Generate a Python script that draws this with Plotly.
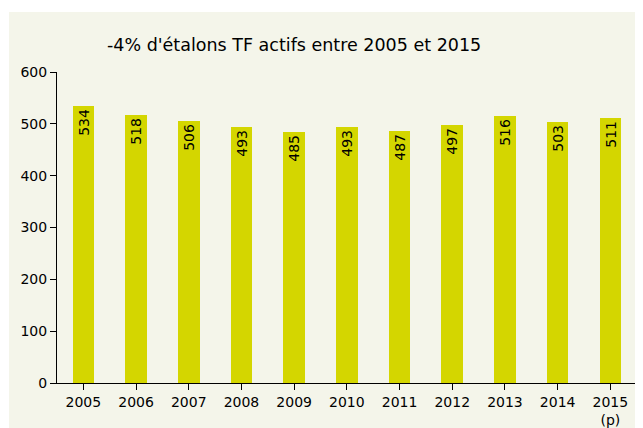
import plotly.graph_objects as go

years = ["2005", "2006", "2007", "2008", "2009", "2010", "2011", "2012", "2013", "2014", "2015<br>(p)"]
values = [534, 518, 506, 493, 485, 493, 487, 497, 516, 503, 511]
y_ticks = [0, 100, 200, 300, 400, 500, 600]
title = "-4% d'étalons TF actifs entre 2005 et 2015"

# page body adds an 8px margin, so the figure is 8px smaller than the window
W, H = 635, 420
L, R, T, B = 49, 0, 64, 45
pw, ph = W - L - R, H - T - B
cat_px = 52.7
panel = "#F4F5EA"
font = "DejaVu Sans"

fig = go.Figure(go.Bar(
    x=list(range(len(years))), y=values,
    width=0.41,
    marker=dict(color="#D4D600", line=dict(width=0)),
    text=[str(v) for v in values],
    textposition="inside", insidetextanchor="end",
    textangle=-90,
    textfont=dict(family=font, size=14, color="#000000"),
    cliponaxis=False,
))

fig.add_shape(type="rect", xref="paper", yref="paper",
              x0=(1 - L) / pw, x1=1.05, y0=-B / ph - 0.02, y1=(H - B - 4) / ph,
              fillcolor=panel, line=dict(width=0), layer="below")

fig.add_annotation(text=title, xref="paper", yref="paper",
                   x=(97 - L) / pw, y=(H - B - 37) / ph,
                   xanchor="left", yanchor="middle", showarrow=False,
                   font=dict(family=font, size=17.5, color="#000000"))

fig.update_layout(
    width=W, height=H,
    margin=dict(l=L, r=R, t=T, b=B, pad=0),
    paper_bgcolor="#FFFFFF", plot_bgcolor=panel,
    showlegend=False,
    font=dict(family=font, size=14, color="#000000"),
    bargap=0,
    uniformtext=dict(minsize=14, mode="show"),
)
fig.update_xaxes(
    range=[-0.5, -0.5 + pw / cat_px],
    tickmode="array", tickvals=list(range(len(years))), ticktext=years,
    tickson="boundaries", ticks="outside", ticklen=6, tickcolor="#000000",
    showline=True, linecolor="#000000", linewidth=1,
    showgrid=False, zeroline=False,
    tickfont=dict(family=font, size=14, color="#000000"),
)
fig.update_yaxes(
    range=[0, 600], tickmode="array", tickvals=y_ticks,
    ticks="outside", ticklen=6, tickcolor="#000000",
    showline=True, linecolor="#000000", linewidth=1,
    showgrid=False, zeroline=False,
    tickfont=dict(family=font, size=14, color="#000000"),
)

fig.write_html("out.html")
